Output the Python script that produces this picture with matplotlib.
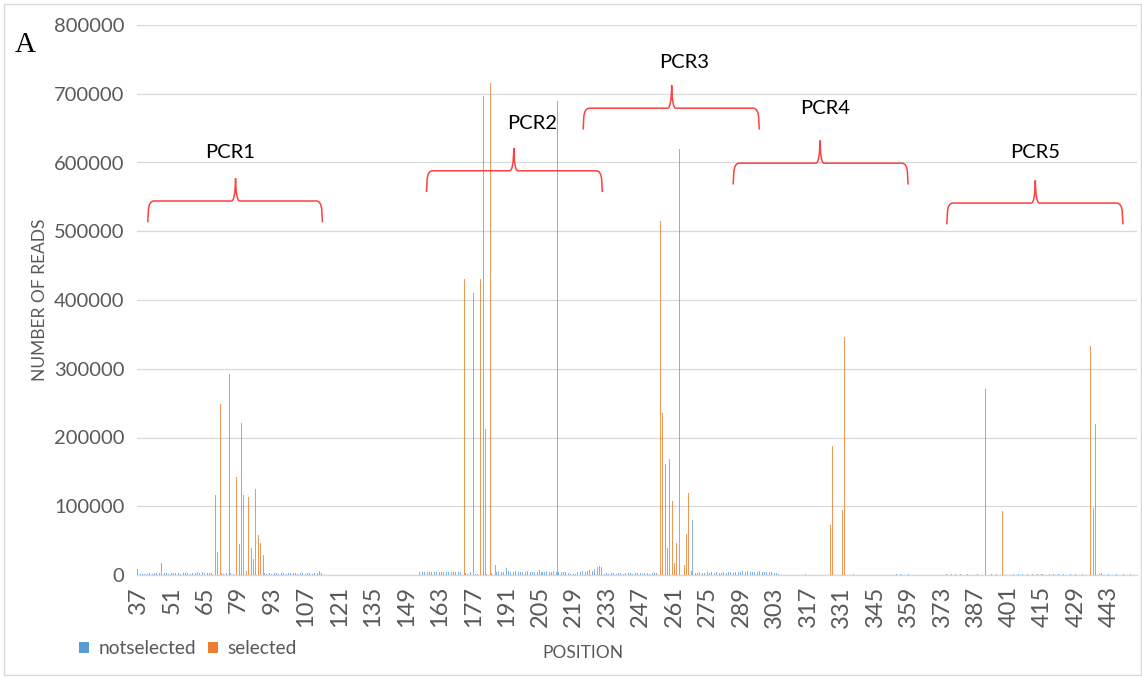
import numpy as np
import matplotlib
matplotlib.use("Agg")
import matplotlib.pyplot as plt
from matplotlib.path import Path
from matplotlib.patches import PathPatch, Rectangle, Patch

plt.rcParams['font.family'] = ['Lato', 'DejaVu Sans']

# ---- data (reads in thousands) ----
first_pos, last_pos = 37, 454

# not-selected reads, contiguous run 37..114
ns_run1_start = 37
ns_run1_k = [9, 2, 1, 2, 2, 3, 2, 3, 3, 3,
             18, 3, 3, 2, 3, 3, 3, 3, 2, 3,
             3, 3, 2, 3, 3, 4, 3, 4, 3, 3,
             3, 3, 0, 0, 0, 3, 2, 3, 0, 3,
             2, 0, 0, 0, 0, 0, 0, 0, 0, 0,
             0, 0, 0, 3, 2, 3, 2, 3, 3, 2,
             3, 3, 2, 3, 3, 3, 3, 2, 3, 3,
             2, 3, 3, 2, 3, 3, 6, 3]

# not-selected reads, contiguous run 155..305
ns_run2_start = 155
ns_run2_k = [4, 5, 5, 4, 5, 5, 4, 5, 4, 5,
             4, 4, 5, 4, 5, 4, 4, 5,
             0,
             3, 2, 4,
             0,
             2, 2, 0, 0, 0, 2, 0, 3, 0,
             5, 6, 5, 5, 10, 6, 5, 5, 6, 5,
             5, 5, 5, 6, 5, 5, 5, 4, 8, 5,
             5, 6, 5, 5, 6,
             5,
             5, 5, 4, 5, 3, 2, 1,
             2, 5, 5, 6, 5, 6, 7, 6, 9, 12, 13, 12,
             2, 3, 2, 3, 3, 2, 3, 3, 2, 3, 3, 3, 2, 3, 3, 3, 2, 3, 3, 2, 3, 3, 3,
             0, 0, 0, 0, 0, 0, 0, 0, 0, 0, 0, 0, 0, 0,
             80,
             3, 3, 4, 3, 3, 4, 3, 4, 3, 4, 3, 3, 4, 3, 4, 4, 3, 4,
             5, 5, 6, 5, 6, 5, 4, 5, 5, 6, 4, 5, 5, 4, 5, 3, 3, 2]

# scattered not-selected reads beyond 305
ns_sparse_pos = [316, 336, 354, 356, 359, 375, 377, 379, 381, 384, 388, 394, 396,
                 403, 405, 407, 409, 411, 413, 415, 418, 420, 422, 424, 427, 429,
                 432, 439, 440, 443, 446, 449, 452]
ns_sparse_k = [1, 1, 1.5, 1.5, 1, 2, 2, 1.5, 1, 1, 1, 1.5, 1,
               1, 2, 1.5, 2, 2, 1.5, 1, 1.5, 1, 1.5, 1, 1.5, 1,
               1, 2, 3, 1.5, 1, 1.5, 1]

# selected reads
sel_pos = [69, 70, 71, 75, 78, 79, 80, 81, 82, 83, 84, 85, 86, 87, 88, 89,
           173, 177, 180, 181, 182, 184, 186, 212,
           255, 256, 257, 258, 259, 260, 261, 262, 263, 265, 266, 267, 268,
           326, 327, 331, 332,
           391, 398, 435, 436, 437]
sel_k = [116, 33, 249, 292, 143, 45, 221, 117, 6, 114, 39, 23, 125, 58, 46, 29,
         430, 410, 430, 696, 213, 715, 14, 689,
         515, 236, 161, 40, 169, 108, 18, 47, 619, 14, 59, 120, 6,
         73, 188, 94, 346,
         271, 93, 333, 98, 220]

# PCR amplicon annotations (positions; levels in k reads)
pcr_names = ["PCR1", "PCR2", "PCR3", "PCR4", "PCR5"]
pcr_start = [41, 157.5, 223, 285.7, 375]
pcr_end = [114, 231, 296.6, 358.8, 448.6]
pcr_apex = [77.7, 194, 260, 322, 412]
pcr_level_k = [544, 588, 679, 599, 541]
pcr_label_x = [75.6, 201.8, 265, 324, 412]
pcr_label_k = [615, 657, 745, 679, 615]

# ---- assemble series ----
positions = np.arange(first_pos, last_pos + 1)
notselected = np.zeros(len(positions))
selected = np.zeros(len(positions))
i1 = ns_run1_start - first_pos
notselected[i1:i1 + len(ns_run1_k)] = ns_run1_k
i2 = ns_run2_start - first_pos
notselected[i2:i2 + len(ns_run2_k)] = ns_run2_k
notselected[np.array(ns_sparse_pos) - first_pos] = ns_sparse_k
selected[np.array(sel_pos) - first_pos] = sel_k
notselected *= 1000
selected *= 1000

# ---- figure ----
W, H = 1142, 677
fig = plt.figure(figsize=(W / 100, H / 100), dpi=100)
ax = fig.add_axes([137 / W, 1 - 575 / H, 1000 / W, 550 / H])

grey_txt = '#595959'
grid_c = '#D9D9D9'
blue, orange = '#5B9BD5', '#ED7D31'

bw = 0.42
ax.bar(positions - bw / 2, notselected, width=bw, color=blue,
       alpha=0.75, linewidth=0, zorder=3)
ax.bar(positions + bw / 2, selected, width=bw, color=orange,
       alpha=0.8, linewidth=0, zorder=3)

ax.set_xlim(first_pos - 0.5, last_pos + 0.5)
ax.set_ylim(0, 800000)
yt = np.arange(0, 800001, 100000)
ax.set_yticks(yt, [str(v) for v in yt])
xt = positions[::14]
ax.set_xticks(xt, [str(v) for v in xt], rotation=90)

ax.grid(axis='y', color=grid_c, linewidth=0.9, zorder=0)
ax.set_axisbelow(True)
for s in ['left', 'right', 'top']:
    ax.spines[s].set_visible(False)
ax.spines['bottom'].set_color(grid_c)
ax.spines['bottom'].set_linewidth(1.0)
ax.tick_params(axis='x', length=0, pad=8, labelsize=17, labelcolor=grey_txt)
ax.tick_params(axis='y', length=0, pad=9, labelsize=14.5, labelcolor=grey_txt)

ax.set_ylabel('NUMBER OF READS', fontsize=12.5, color=grey_txt)
ax.yaxis.set_label_coords(-0.089, 0.5)
ax.set_xlabel('POSITION', fontsize=12.5, color=grey_txt)
ax.xaxis.set_label_coords(0.446, -0.128)


def brace(x0, x1, xm, yl, drop, rise):
    ye = yl - drop
    yt_ = yl + rise
    verts = [(x0, ye), (x0 + 0.25, yl - 0.45 * drop),
             (x0 + 0.45, yl), (x0 + 2.6, yl),
             (xm - 1.7, yl),
             (xm - 0.15, yl), (xm, yt_),
             (xm + 0.15, yl), (xm + 1.7, yl),
             (x1 - 2.6, yl),
             (x1 - 0.45, yl), (x1 - 0.25, yl - 0.45 * drop),
             (x1, ye)]
    codes = [Path.MOVETO, Path.LINETO,
             Path.CURVE3, Path.CURVE3,
             Path.LINETO,
             Path.CURVE3, Path.CURVE3,
             Path.CURVE3, Path.CURVE3,
             Path.LINETO,
             Path.CURVE3, Path.CURVE3,
             Path.LINETO]
    ax.add_patch(PathPatch(Path(verts, codes), facecolor='none',
                           edgecolor='#FF4040', linewidth=1.1, zorder=5,
                           clip_on=False))


for name, a, b, m, lvl, lx, ly in zip(pcr_names, pcr_start, pcr_end, pcr_apex,
                                      pcr_level_k, pcr_label_x, pcr_label_k):
    brace(a, b, m, lvl * 1000, 31000, 33000)
    ax.text(lx, ly * 1000, name, ha='center', va='center', fontsize=14.5,
            color='black', zorder=6)

# panel letter
fig.text(25 / W, 1 - 45 / H, 'A', fontsize=21, family='Liberation Serif',
         ha='center', va='center', color='black')

# legend with solid swatches
handles = [Patch(facecolor=blue, edgecolor='none', label='notselected'),
           Patch(facecolor=orange, edgecolor='none', label='selected')]
fig.legend(handles=handles, loc='center left',
           bbox_to_anchor=(79 / W, 1 - 649 / H), ncol=2, frameon=False,
           fontsize=13.8, labelcolor=grey_txt, handlelength=0.52,
           handleheight=0.52, handletextpad=0.5, columnspacing=0.6,
           borderpad=0, borderaxespad=0)

# chart-area border
fig.patches.append(Rectangle((4 / W, 2 / H), 1137 / W, 671 / H,
                             transform=fig.transFigure, fill=False,
                             edgecolor=grid_c, linewidth=1.0))

fig.savefig('out.png', dpi=100)
